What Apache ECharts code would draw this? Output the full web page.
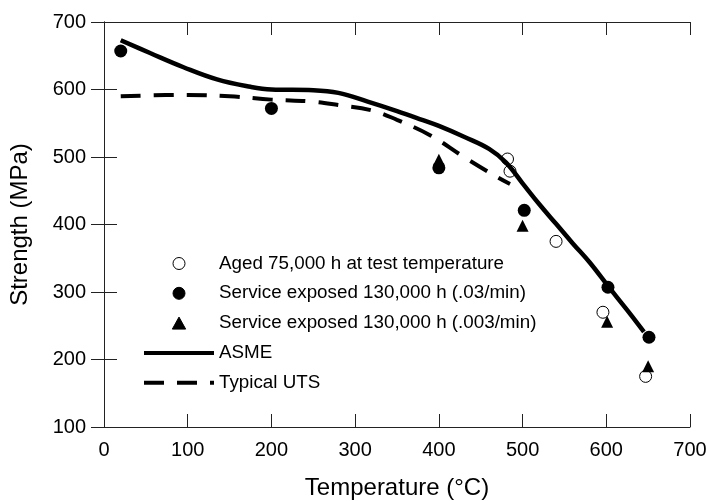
<!DOCTYPE html>
<html>
<head>
<meta charset="utf-8">
<script src="https://cdn.jsdelivr.net/npm/echarts@6/dist/echarts.min.js"></script>
<style>
  html, body { margin: 0; padding: 0; background: #fff; }
  #chart { width: 706px; height: 501px; }
</style>
</head>
<body>
<div id="chart"></div>
<script>
// values, [temperature C, strength MPa]
var agedPoints = [[482, 497], [485, 479], [540, 375], [596, 270], [647, 175]];
var fastPoints = [[20, 657], [200, 572], [400, 484], [502, 421], [602, 307], [651, 233]];
var slowPoints = [[400, 496], [500, 398], [601, 256], [650, 190]];
var asmeCurve = [[20, 673], [55, 654], [95, 633], [135, 615], [175, 604], [200, 600],
    [250, 599], [280, 595], [315, 582], [350, 568], [380, 555], [400, 546], [430, 530],
    [460, 512], [480, 492], [500, 461], [520, 430], [540, 401], [560, 372], [580, 344],
    [602, 309], [625, 273], [645, 241]];
var utsCurve = [[20, 590], [100, 592], [150, 590], [200, 585], [250, 582], [280, 577],
    [320, 569], [350, 555], [390, 532], [430, 500], [470, 470], [485, 460]];

var xTicks = { min: 0, max: 700, step: 100 };
var yTicks = { min: 100, max: 700, step: 100 };

var seriesNames = [
    'Aged 75,000 h at test temperature',
    'Service exposed 130,000 h (.03/min)',
    'Service exposed 130,000 h (.003/min)',
    'ASME',
    'Typical UTS'
];

var font = 'Liberation Sans, Arial, sans-serif';
var triangleIcon = 'path://M5,0 L10,9 L0,9 Z';

function frameAxis(pos, ticks, showLabel) {
    return {
        type: 'value',
        position: pos,
        min: ticks.min,
        max: ticks.max,
        interval: ticks.step,
        splitLine: { show: false },
        axisLine: { show: true, lineStyle: { color: '#222', width: 1 } },
        axisTick: { show: true, inside: true, length: 13, lineStyle: { color: '#222', width: 1 } },
        axisLabel: { show: showLabel, color: '#000', fontSize: 20, fontFamily: font }
    };
}

var chart = echarts.init(document.getElementById('chart'));

var xMain = frameAxis('bottom', xTicks, true);
xMain.name = 'Temperature (°C)';
xMain.nameLocation = 'middle';
xMain.nameGap = 49;
xMain.nameTextStyle = { color: '#000', fontSize: 24, fontFamily: font };
xMain.axisLabel.margin = 13;

var yMain = frameAxis('left', yTicks, true);
yMain.name = 'Strength (MPa)';
yMain.nameLocation = 'middle';
yMain.nameGap = 72;
yMain.nameTextStyle = { color: '#000', fontSize: 24, fontFamily: font };
yMain.axisLabel.margin = 18;

var option = {
    animation: false,
    backgroundColor: '#fff',
    grid: { left: 104, right: 16, top: 22, bottom: 74, outerBoundsMode: 'none', containLabel: false },
    xAxis: [xMain, frameAxis('top', xTicks, false)],
    yAxis: [yMain, frameAxis('right', yTicks, false)],
    legend: {
        orient: 'vertical',
        left: 137,
        top: 249,
        itemWidth: 70,
        itemHeight: 12,
        itemGap: 10.8,
        symbolKeepAspect: true,
        textStyle: { color: '#000', fontSize: 18.8, lineHeight: 18, fontFamily: font },
        itemStyle: { borderWidth: 1 },
        lineStyle: { width: 4 },
        data: [
            { name: seriesNames[0] },
            { name: seriesNames[1] },
            { name: seriesNames[2], icon: triangleIcon },
            { name: seriesNames[3], itemStyle: { opacity: 0 } },
            { name: seriesNames[4], itemStyle: { opacity: 0 } }
        ]
    },
    series: [
        {
            name: seriesNames[0],
            type: 'scatter',
            data: agedPoints,
            symbol: 'circle',
            symbolSize: 12,
            itemStyle: { color: '#fff', borderColor: '#000', borderWidth: 1, opacity: 1 },
            z: 1
        },
        {
            name: seriesNames[3],
            type: 'line',
            data: asmeCurve,
            smooth: 0.4,
            symbol: 'none',
            lineStyle: { color: '#000', width: 4.5 },
            itemStyle: { color: '#000' },
            z: 2
        },
        {
            name: seriesNames[4],
            type: 'line',
            data: utsCurve,
            smooth: 0.4,
            symbol: 'none',
            lineStyle: { color: '#000', width: 4, type: [20, 13] },
            itemStyle: { color: '#000' },
            z: 2
        },
        {
            name: seriesNames[1],
            type: 'scatter',
            data: fastPoints,
            symbol: 'circle',
            symbolSize: 13,
            itemStyle: { color: '#000', borderColor: '#000', borderWidth: 0, opacity: 1 },
            z: 4
        },
        {
            name: seriesNames[2],
            type: 'scatter',
            data: slowPoints,
            symbol: 'triangle',
            symbolSize: 12,
            itemStyle: { color: '#000', borderColor: '#000', borderWidth: 0, opacity: 1 },
            z: 4
        }
    ]
};

chart.setOption(option);
</script>
</body>
</html>
